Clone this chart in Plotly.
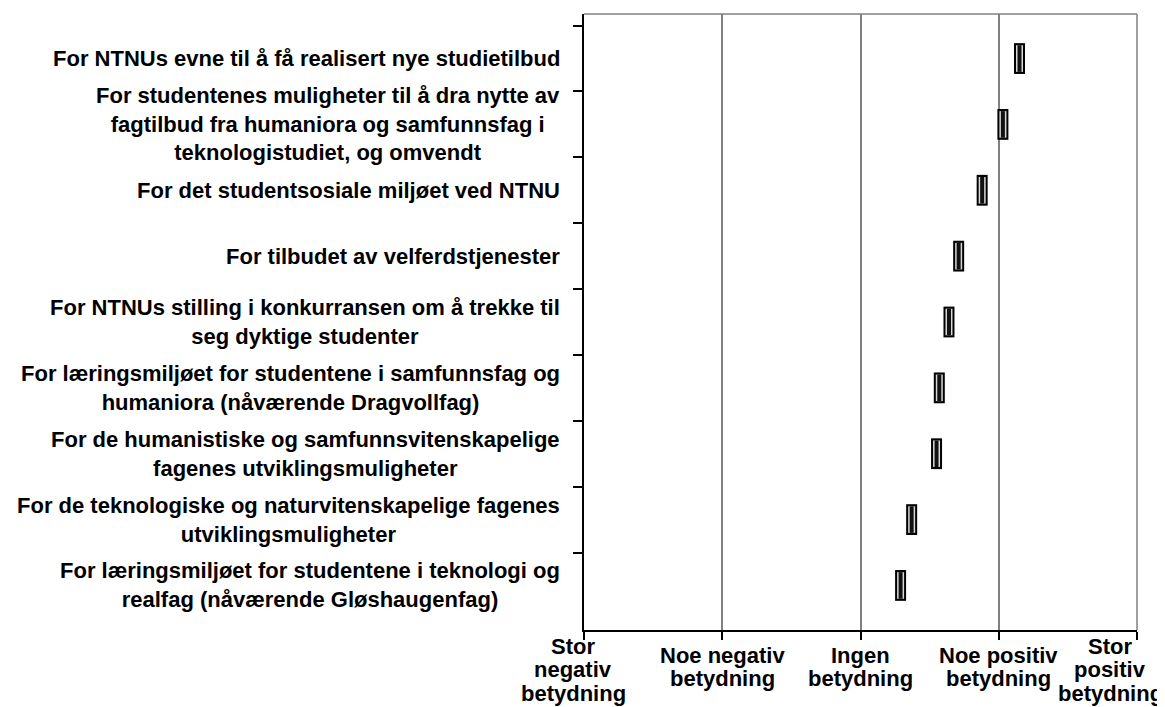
import plotly.graph_objects as go

# Categories (top to bottom) and mean scores on the 1-5 scale
kategorier = [
    "For NTNUs evne til å få realisert nye studietilbud",
    "For studentenes muligheter til å dra nytte av<br>fagtilbud fra humaniora og samfunnsfag i<br>teknologistudiet, og omvendt",
    "For det studentsosiale miljøet ved NTNU",
    "For tilbudet av velferdstjenester",
    "For NTNUs stilling i konkurransen om å trekke til<br>seg dyktige studenter",
    "For læringsmiljøet for studentene i samfunnsfag og<br>humaniora (nåværende Dragvollfag)",
    "For de humanistiske og samfunnsvitenskapelige<br>fagenes utviklingsmuligheter",
    "For de teknologiske og naturvitenskapelige fagenes<br>utviklingsmuligheter",
    "For læringsmiljøet for studentene i teknologi og<br>realfag (nåværende Gløshaugenfag)",
]
snitt = [4.15, 4.03, 3.88, 3.71, 3.64, 3.57, 3.55, 3.37, 3.29]

skala_verdier = [1, 2, 3, 4, 5]
skala_tekst = [
    "Stor<br>negativ<br>betydning",
    "Noe negativ<br>betydning",
    "Ingen<br>betydning",
    "Noe positiv<br>betydning",
    "Stor<br>positiv<br>betydning",
]
# edge labels are pulled a little inwards, as in the original
skala_forskyvning = [-11, 0, 0, 0, -27]

font_navn = "Liberation Sans, Arial, sans-serif"
tekstfont = dict(family=font_navn, size=22, color="black", weight="bold")

fig = go.Figure()

# marker drawn as black bar with two light stripes
fig.add_trace(go.Scatter(
    x=snitt, y=kategorier, mode="markers",
    marker=dict(symbol="line-ns", size=22, line=dict(width=11, color="black")),
    hoverinfo="skip", showlegend=False,
))
fig.add_trace(go.Scatter(
    x=snitt, y=kategorier, mode="markers",
    marker=dict(symbol="line-ns", size=19, line=dict(width=7, color="#d8d8d8")),
    hoverinfo="skip", showlegend=False,
))
fig.add_trace(go.Scatter(
    x=snitt, y=kategorier, mode="markers",
    marker=dict(symbol="line-ns", size=19, line=dict(width=4, color="#111")),
    hovertemplate="%{x:.2f}<extra></extra>", showlegend=False,
))

# category labels, centred block right-aligned to the axis
for k in kategorier:
    fig.add_annotation(
        x=0, xref="paper", y=k, yref="y", text=k,
        xanchor="right", yanchor="middle", align="center", xshift=-22,
        showarrow=False, font=tekstfont,
    )

# scale labels under the x axis, one annotation per line (tighter spacing)
for v, t, dx in zip(skala_verdier, skala_tekst, skala_forskyvning):
    linjer = t.split("<br>")
    start = 16 if len(linjer) == 3 else 25
    for i, linje in enumerate(linjer):
        fig.add_annotation(
            x=v, xref="x", y=0, yref="paper", text=linje,
            xanchor="center", yanchor="middle", xshift=dx, yshift=-(start + 23.5 * i),
            showarrow=False, font=tekstfont,
        )

# grey frame on top and right
fig.add_shape(type="line", xref="paper", yref="paper", x0=0, x1=1, y0=1, y1=1,
              line=dict(color="#808080", width=1.5))
fig.add_shape(type="line", xref="paper", yref="paper", x0=1, x1=1, y0=0, y1=1,
              line=dict(color="#808080", width=1.5))

fig.update_xaxes(
    range=[1, 5], tickvals=skala_verdier, showticklabels=False,
    showgrid=True, gridcolor="#808080", gridwidth=1.5,
    showline=True, linecolor="black", linewidth=1.5,
    ticks="outside", ticklen=8, tickcolor="black", tickwidth=1.5,
    zeroline=False, fixedrange=True, automargin=False,
)
fig.update_yaxes(
    type="category", categoryorder="array", categoryarray=kategorier,
    autorange="reversed", showticklabels=False,
    tickson="boundaries", ticks="outside", ticklen=9, tickcolor="black", tickwidth=1.5,
    showline=True, linecolor="black", linewidth=1.5,
    showgrid=False, zeroline=False, fixedrange=True, automargin=False,
)

# the page body has an 8px margin, so the figure is made 8px smaller
fig.update_layout(
    width=1157, height=699,
    margin=dict(l=576, r=28, t=6, b=77, autoexpand=False),
    plot_bgcolor="white", paper_bgcolor="white",
    font=dict(family=font_navn, color="black"),
)

fig.write_html("out.html")
